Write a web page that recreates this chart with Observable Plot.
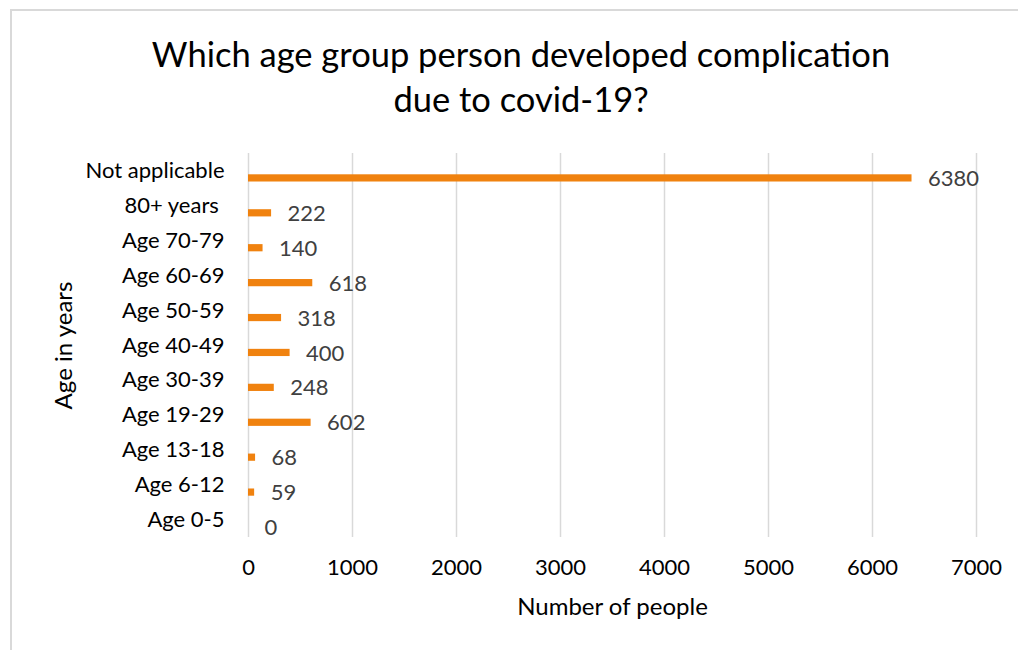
<!DOCTYPE html>
<html>
<head>
<meta charset="utf-8">
<script src="https://cdn.jsdelivr.net/npm/d3@7"></script>
<script src="https://cdn.jsdelivr.net/npm/@observablehq/plot@0.6"></script>
<style>
  body { margin: 0; background: #fff; }
  #chart { position: relative; width: 1018px; height: 650px; overflow: hidden; font-family: Lato, "Open Sans", sans-serif; background: #fff; }
  #frame { position: absolute; left: 10px; top: 9px; right: -5px; bottom: -5px; border-top: 2px solid #d9d9d9; border-left: 2px solid #d9d9d9; pointer-events: none; }
  #title { position: relative; box-sizing: border-box; width: 1018px; height: 145px; padding: 31px 0 0 24px; text-align: center; font-size: 34.5px; line-height: 45px; color: #000; }
  #plot svg { display: block; }
</style>
</head>
<body>
<div id="chart">
  <div id="frame"></div>
  <div id="title">Which age group person developed complication<br>due to covid-19?</div>
  <div id="plot"></div>
</div>
<script>
// Age groups, listed from the top row to the bottom row
const categories = ["Not applicable", "80+ years\u00a0", "Age 70-79", "Age 60-69", "Age 50-59", "Age 40-49", "Age 30-39", "Age 19-29", "Age 13-18", "Age 6-12", "Age 0-5"];
// Number of people in each age group
const counts = [6380, 222, 140, 618, 318, 400, 248, 602, 68, 59, 0];
// Horizontal axis ticks
const xTicks = [0, 1000, 2000, 3000, 4000, 5000, 6000, 7000];
const xLabel = "Number of people";
const yLabel = "Age in years";

const rows = categories.map((group, i) => ({group, count: counts[i]}));

const chart = Plot.plot({
  width: 1018,
  height: 505,
  marginTop: 8,
  marginBottom: 113,
  marginLeft: 248,
  marginRight: 42,
  style: {fontFamily: "Lato, 'Open Sans', sans-serif", background: "transparent", overflow: "visible", color: "#000"},
  x: {domain: [0, 7000], ticks: xTicks, tickFormat: d3.format("d")},
  y: {domain: categories, padding: 0, round: false},
  marks: [
    Plot.gridX(xTicks, {stroke: "#d9d9d9", strokeOpacity: 1, strokeWidth: 1.5}),
    Plot.barX(rows, {x: "count", y: "group", fill: "#F0820F", insetTop: 21.3, insetBottom: 6.4}),
    Plot.text(rows, {x: "count", y: "group", text: d => String(d.count), dx: 16, dy: 8, textAnchor: "start", fill: "#404040", fontSize: 22}),
    Plot.axisX(xTicks, {tickSize: 0, tickPadding: 22, fontSize: 22, tickFormat: d3.format("d"), label: null}),
    Plot.axisY({tickSize: 0, tickPadding: 24, fontSize: 22, label: null}),
    Plot.text([xLabel], {text: d => d, frameAnchor: "bottom", dy: 70, fontSize: 24, textAnchor: "middle", lineAnchor: "middle"}),
    Plot.text([yLabel], {text: d => d, frameAnchor: "left", dx: -184, rotate: -90, fontSize: 24, textAnchor: "middle", lineAnchor: "middle"})
  ]
});
document.getElementById("plot").appendChild(chart);
</script>
</body>
</html>
